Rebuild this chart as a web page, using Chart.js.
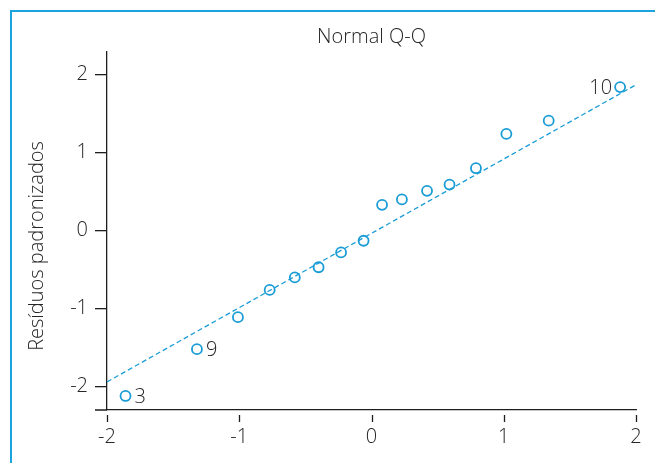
<!DOCTYPE html>
<html>
<head>
<meta charset="utf-8">
<script src="https://cdn.jsdelivr.net/npm/chart.js@4"></script>
<style>
  body { margin: 0; background: #fff; }
  #wrap { position: relative; width: 655px; height: 463px; overflow: hidden; }
  #frame { position: absolute; left: 10px; top: 10px; width: 700px; height: 500px;
           border-left: 2px solid #1ca2dc; border-top: 2px solid #1ca2dc; }
  canvas { position: absolute; left: 0; top: 0; }
</style>
</head>
<body>
<div id="wrap">
  <div id="frame"></div>
  <canvas id="qq" width="655" height="463"></canvas>
</div>
<script>
// theoretical quantiles and standardized residuals
const theoretical = [-1.86, -1.32, -1.01, -0.77, -0.58, -0.40, -0.23, -0.06,
                     0.08, 0.23, 0.42, 0.59, 0.79, 1.02, 1.34, 1.88];
const residuals = [-2.12, -1.52, -1.11, -0.76, -0.60, -0.47, -0.28, -0.13,
                   0.33, 0.40, 0.51, 0.59, 0.80, 1.24, 1.41, 1.84];
const pointLabels = ["3", "9", "", "", "", "", "", "", "", "", "", "", "", "", "", "10"];
const labelSide = ["right", "right", "", "", "", "", "", "", "", "", "", "", "", "", "", "left"];

// reference line endpoints
const refLineX = [-2, 2];
const refLineY = [-1.94, 1.87];

const xTicks = [-2, -1, 0, 1, 2];
const yTicks = [-2, -1, 0, 1, 2];

const titleText = "Normal Q-Q";
const yTitle = "Resíduos padronizados";

const blue = "#1a9cd6";
const ink = "#262626";
const axisInk = "#1e1e1e";
const fontFamily = "'Open Sans', Lato, sans-serif";
const fontSize = 20;

const axisDecor = {
  id: "axisDecor",
  afterDraw(chart) {
    const ctx = chart.ctx;
    const area = chart.chartArea;
    const x = chart.scales.x;
    ctx.save();
    ctx.strokeStyle = axisInk;
    ctx.lineWidth = 1.3;
    // x axis runs a bit past the y axis
    ctx.beginPath();
    ctx.moveTo(area.left - 12, area.bottom);
    ctx.lineTo(area.left, area.bottom);
    // x tick marks, detached from the axis line
    xTicks.forEach(v => {
      const px = Math.round(x.getPixelForValue(v)) + 0.5;
      ctx.moveTo(px, area.bottom + 5);
      ctx.lineTo(px, area.bottom + 12);
    });
    ctx.stroke();

    ctx.fillStyle = ink;
    ctx.font = "300 " + fontSize + "px " + fontFamily;
    ctx.textAlign = "center";
    ctx.textBaseline = "middle";
    // title, centred over the plot area
    ctx.fillText(titleText, (area.left + area.right) / 2, 37);
    // y title
    ctx.translate(37, 246);
    ctx.rotate(-Math.PI / 2);
    ctx.fillText(yTitle, 0, 0);
    ctx.restore();
  },
  afterDatasetsDraw(chart) {
    const ctx = chart.ctx;
    const meta = chart.getDatasetMeta(0);
    ctx.save();
    ctx.fillStyle = ink;
    ctx.font = "300 " + fontSize + "px " + fontFamily;
    ctx.textBaseline = "middle";
    pointLabels.forEach((t, i) => {
      if (!t) return;
      const el = meta.data[i];
      if (labelSide[i] === "right") {
        ctx.textAlign = "left";
        ctx.fillText(t, el.x + 9, el.y + 1);
      } else {
        ctx.textAlign = "right";
        ctx.fillText(t, el.x - 8, el.y + 1);
      }
    });
    ctx.restore();
  }
};

new Chart(document.getElementById("qq"), {
  type: "scatter",
  data: {
    datasets: [
      {
        data: theoretical.map((v, i) => ({ x: v, y: residuals[i] })),
        pointStyle: "circle",
        pointRadius: 5,
        borderColor: blue,
        borderWidth: 1.8,
        backgroundColor: "rgba(0,0,0,0)",
        showLine: false,
        clip: false
      },
      {
        data: refLineX.map((v, i) => ({ x: v, y: refLineY[i] })),
        showLine: true,
        borderColor: blue,
        borderWidth: 1.3,
        borderDash: [5, 3],
        pointRadius: 0,
        clip: false
      }
    ]
  },
  options: {
    responsive: false,
    devicePixelRatio: 1,
    animation: false,
    layout: { padding: { left: 0, right: 19, top: 52, bottom: 0 } },
    plugins: {
      legend: { display: false },
      tooltip: { enabled: false },
      title: { display: false }
    },
    scales: {
      x: {
        type: "linear",
        min: -2,
        max: 2,
        afterBuildTicks: s => { s.ticks = xTicks.map(v => ({ value: v })); },
        afterFit: s => { s.height = 53; },
        grid: { display: false },
        border: { display: true, color: axisInk, width: 1.3 },
        ticks: {
          color: ink,
          padding: 7,
          maxRotation: 0,
          font: { family: fontFamily, size: fontSize, weight: 300 }
        }
      },
      y: {
        type: "linear",
        min: -2.3,
        max: 2.29,
        afterBuildTicks: s => { s.ticks = yTicks.map(v => ({ value: v })); },
        afterFit: s => { s.width = 107; },
        grid: { drawOnChartArea: false, drawTicks: true, tickLength: 12, color: axisInk, lineWidth: 1.3 },
        border: { display: true, color: axisInk, width: 1.3 },
        ticks: {
          color: ink,
          padding: 7,
          font: { family: fontFamily, size: fontSize, weight: 300 }
        }
      }
    }
  },
  plugins: [axisDecor]
});
</script>
</body>
</html>
